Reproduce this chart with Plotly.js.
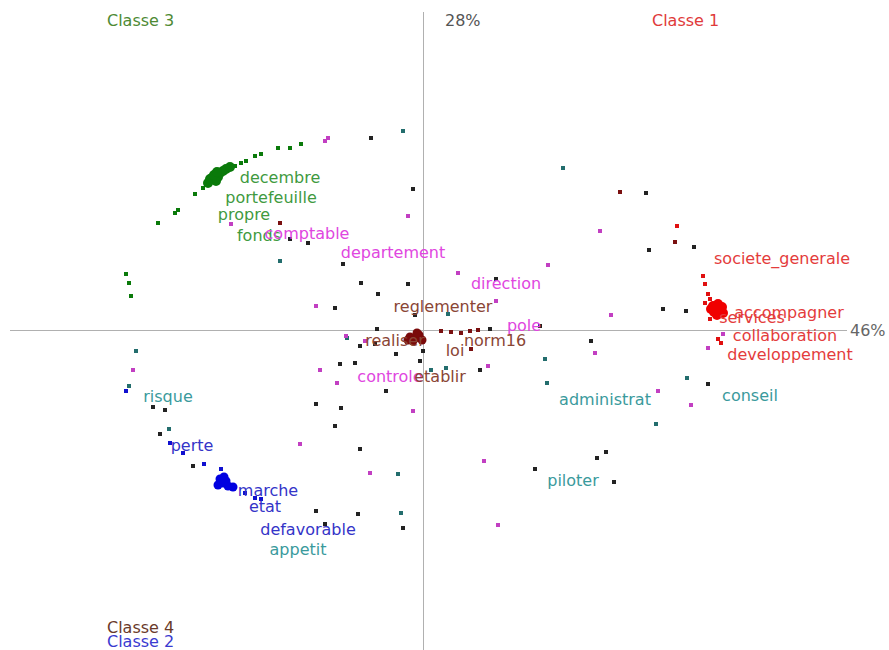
<!DOCTYPE html>
<html>
<head>
<meta charset="utf-8">
<script src="https://cdn.plot.ly/plotly-3.0.1.min.js"></script>
<style>html,body{margin:0;padding:0;background:#fff;}#chart{width:889px;height:650px;}</style>
</head>
<body>
<div id="chart"></div>
<script>
// ---- data (factor coordinates, axis 1 = 46%, axis 2 = 28%) ----
const axis1Label = "46%";
const axis2Label = "28%";
const classNames = ["Classe 1", "Classe 2", "Classe 3", "Classe 4"];

// class 3 (green) word points
const c3x = [-2.65,-2.48,-2.45,-2.28,-2.20,-2.15,-1.88,-1.82,-1.77,-1.68,-1.62,-1.45,-1.33,-1.22,-2.97,-2.94,-2.92];
const c3y = [1.07,1.17,1.20,1.36,1.42,1.47,1.64,1.67,1.69,1.74,1.76,1.82,1.82,1.86,0.56,0.47,0.34];
const c3coreX = [-2.13,-2.09,-2.05,-2.07,-2.03,-2.11,-2.00,-1.97,-1.93,-2.15,-2.06];
const c3coreY = [1.51,1.55,1.53,1.49,1.57,1.52,1.59,1.61,1.63,1.47,1.58];

// class 1 (red)
const c1x = [2.54,2.80,2.82,2.85,2.87,2.87,2.95,2.98,2.82];
const c1y = [1.04,0.54,0.46,0.36,0.31,0.11,-0.09,-0.13,0.27];
const c1coreX = [2.90,2.93,2.97,2.91,2.95,3.00,2.88,2.94,2.99];
const c1coreY = [0.24,0.22,0.20,0.18,0.26,0.17,0.21,0.15,0.23];

// class 4 (dark red)
const c4x = [1.97,2.52,-1.43,0.47,0.38,0.28,0.18,0.48,0.55];
const c4y = [1.38,0.88,1.07,-0.01,-0.03,-0.02,-0.01,-0.19,0.00];
const c4coreX = [-0.13,-0.08,-0.04,-0.10,-0.01,-0.06,-0.15];
const c4coreY = [-0.07,-0.08,-0.05,-0.11,-0.10,-0.03,-0.10];

// class 2 (blue)
const c2x = [-2.53,-2.40,-2.19,-2.02,-2.97,-1.78,-1.68,-1.62,-1.92];
const c2y = [-1.13,-1.23,-1.34,-1.39,-0.61,-1.63,-1.68,-1.69,-1.58];
const c2coreX = [-2.03,-2.00,-1.97,-2.05,-1.95,-1.99,-1.90];
const c2coreY = [-1.49,-1.53,-1.51,-1.55,-1.56,-1.47,-1.57];

// other words (black)
const blackX = [-0.52,-0.10,-1.15,-1.33,-0.80,-0.62,-0.15,-0.45,-0.88,0.73,-0.08,1.17,0.67,-0.46,-0.63,-0.48,0.00,-0.27,-0.03,-0.83,-0.68,0.57,-0.37,-1.07,-0.82,1.68,2.23,2.26,2.71,2.40,2.63,2.85,1.83,1.74,1.12,1.91,-2.70,-2.58,-2.63,-2.30,-0.88,-0.63,-1.07,-0.65,-0.98,-0.20];
const blackY = [1.92,1.41,0.87,0.91,0.66,0.47,0.46,0.36,0.22,0.51,0.15,0.04,0.01,0.01,-0.16,-0.14,-0.21,-0.24,-0.31,-0.34,-0.33,-0.40,-0.61,-0.74,-0.78,-0.11,1.37,0.80,0.83,0.21,0.19,-0.54,-1.22,-1.28,-1.39,-1.52,-0.77,-0.80,-1.04,-1.36,-0.96,-1.19,-1.81,-1.84,-1.94,-1.98];

// teal words
const tealX = [-0.20,1.40,-1.43,-0.76,0.08,0.23,1.22,1.24,2.64,2.33,-2.87,-2.94,-2.54,-0.25,-0.22,0.25];
const tealY = [1.99,1.62,0.69,-0.08,-0.40,-0.38,-0.29,-0.53,-0.48,-0.94,-0.21,-0.56,-0.99,-1.44,-1.83,0.16];

// magenta words
const magX = [-0.98,-0.95,-0.15,-1.92,-1.07,1.25,0.35,0.73,-0.58,-0.77,0.65,-1.03,-0.86,1.77,1.88,3.00,2.85,1.72,2.35,2.68,0.61,0.75,-2.90,-0.10,-1.23,-0.53];
const magY = [1.89,1.92,1.14,1.06,0.24,0.65,0.57,0.29,-0.11,-0.06,-0.36,-0.40,-0.53,0.99,0.15,-0.04,-0.18,-0.23,-0.61,-0.75,-1.31,-1.95,-0.40,-0.81,-1.14,-1.43];

// labelled words
const greenWords = ["decembre","portefeuille","propre","fonds"];
const greenWx = [-1.43,-1.52,-1.79,-1.64];
const greenWy = [1.51,1.31,1.14,0.93];

const magWords = ["comptable","departement","direction","pole","controle"];
const magWx = [-1.16,-0.30,0.83,1.01,-0.33];
const magWy = [0.95,0.76,0.45,0.03,-0.48];

const brownWords = ["reglementer","realiser","norm16","loi","etablir"];
const brownWx = [0.20,-0.28,0.72,0.32,0.17];
const brownWy = [0.22,-0.12,-0.12,-0.22,-0.48];

const tealWords = ["risque","administrat","conseil","piloter","appetit"];
const tealWx = [-2.55,1.82,3.27,1.50,-1.25];
const tealWy = [-0.68,-0.71,-0.67,-1.52,-2.21];

const blueWords = ["perte","marche","etat","defavorable"];
const blueWx = [-2.31,-1.55,-1.58,-1.15];
const blueWy = [-1.17,-1.62,-1.78,-2.01];

const redWords = ["societe_generale","accompagner","services","collaboration","developpement"];
const redWx = [3.59,3.66,3.29,3.62,3.67];
const redWy = [0.70,0.16,0.11,-0.07,-0.26];

// ---- traces ----
function pts(x, y, color, size, symbol) {
  return {type:'scatter', mode:'markers', x:x, y:y, hoverinfo:'skip',
    marker:{color:color, size:size, symbol:symbol||'square', line:{width:0}}};
}
function words(t, x, y, color) {
  return {type:'scatter', mode:'text', x:x, y:y, text:t, hoverinfo:'skip',
    textposition:'middle center', cliponaxis:false,
    textfont:{family:'DejaVu Sans, Verdana, sans-serif', size:16, color:color}};
}
const traces = [
  pts(blackX, blackY, '#222222', 4),
  pts(tealX, tealY, '#236d6d', 4),
  pts(magX, magY, '#c23fc2', 4),
  pts(c3x, c3y, '#0a7a0a', 4),
  pts(c1x, c1y, '#e01010', 4),
  pts(c4x, c4y, '#7a1010', 4),
  pts(c2x, c2y, '#1010d0', 4),
  pts(c3coreX, c3coreY, '#0a7a0a', 10, 'circle'),
  pts(c1coreX, c1coreY, '#f00000', 10, 'circle'),
  pts(c4coreX, c4coreY, '#7a0a0a', 9, 'circle'),
  pts(c2coreX, c2coreY, '#0000e0', 9, 'circle'),
  words(greenWords, greenWx, greenWy, '#3f9a3f'),
  words(magWords, magWx, magWy, '#e046e0'),
  words(brownWords, brownWx, brownWy, '#8a4535'),
  words(tealWords, tealWx, tealWy, '#3a9a9c'),
  words(blueWords, blueWx, blueWy, '#3434c8'),
  words(redWords, redWx, redWy, '#e43c3c')
];

const axStyle = {showgrid:false, zeroline:true, zerolinecolor:'#b0b0b0', zerolinewidth:1,
  showticklabels:false, ticks:'', showline:false, fixedrange:true};

const annFont = (c) => ({family:'DejaVu Sans, Verdana, sans-serif', size:16, color:c});
const layout = {
  width:889, height:650,
  margin:{l:10, r:42, t:12, b:0},
  paper_bgcolor:'#ffffff', plot_bgcolor:'#ffffff',
  showlegend:false,
  xaxis:Object.assign({range:[-4.13, 4.24]}, axStyle),
  yaxis:Object.assign({range:[-3.20, 3.18]}, axStyle),
  annotations:[
    {xref:'x', yref:'y', x:-3.18, y:3.10, xanchor:'left', yanchor:'middle', text:classNames[2], showarrow:false, font:annFont('#4e8a34')},
    {xref:'x', yref:'y', x:2.27, y:3.10, xanchor:'left', yanchor:'middle', text:classNames[0], showarrow:false, font:annFont('#e03a3a')},
    {xref:'x', yref:'y', x:-3.18, y:-2.97, xanchor:'left', yanchor:'middle', text:classNames[3], showarrow:false, font:annFont('#6a3a2a')},
    {xref:'x', yref:'y', x:-3.18, y:-3.11, xanchor:'left', yanchor:'middle', text:classNames[1], showarrow:false, font:annFont('#3a3ad0')},
    {xref:'x', yref:'y', x:0.40, y:3.10, xanchor:'center', yanchor:'middle', text:axis2Label, showarrow:false, font:annFont('#555555')},
    {xref:'paper', yref:'y', x:1.025, y:0, xanchor:'center', yanchor:'middle', text:axis1Label, showarrow:false, font:annFont('#666666')}
  ]
};

Plotly.newPlot('chart', traces, layout, {staticPlot:true, displayModeBar:false});
</script>
</body>
</html>
